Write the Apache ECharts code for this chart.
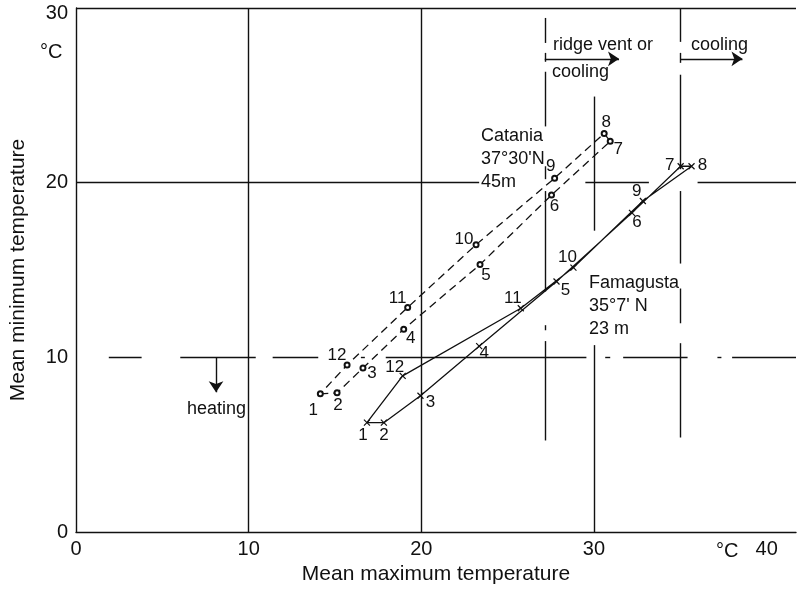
<!DOCTYPE html>
<html>
<head>
<meta charset="utf-8">
<script src="https://cdn.jsdelivr.net/npm/echarts@6/dist/echarts.min.js"></script>
<style>
html,body{margin:0;padding:0;background:#fff;}
#chart{width:799px;height:590px;}
</style>
</head>
<body>
<div id="chart"></div>
<script>
// ---------- data ----------
const months = ['1','2','3','4','5','6','7','8','9','10','11','12'];
const cataniaMax = [14.15, 15.12, 16.62, 18.98, 23.40, 27.54, 30.94, 30.59, 27.72, 23.17, 19.21, 15.70];
const cataniaMin = [7.91, 7.97, 9.39, 11.61, 15.31, 19.29, 22.37, 22.82, 20.26, 16.45, 12.86, 9.56];
const famagustaMax = [16.85, 17.83, 19.95, 23.35, 27.83, 32.20, 35.02, 35.65, 32.83, 28.81, 25.76, 18.92];
const famagustaMin = [6.26, 6.26, 7.80, 10.64, 14.34, 18.27, 20.94, 20.94, 18.95, 15.14, 12.81, 8.94];

const xTicks = [0, 10, 20, 30, 40];
const yTicks = [0, 10, 20, 30];

// reference lines (data units): vertical [x, [yFrom, yTo]...], horizontal [y, [xFrom, xTo]...]
const grid10X = 10, grid10Segs = [[0, 30]];
const grid20X = 20, grid20Segs = [[0, 30]];
const grid30X = 30, grid30Segs = [[24.93, 17.25], [10.70, 0]];
const ridgeX = 27.15, ridgeSegs = [[29.43, 28.0], [27.43, 26.92], [26.35, 23.22], [20.94, 20.20], [19.52, 13.77], [11.84, 11.55], [10.93, 5.24]];
const coolX = 35.0, coolSegs = [[30, 28.06], [27.43, 26.86], [26.18, 20.77], [19.52, 15.37], [13.94, 11.95], [10.81, 5.41]];
const h20Y = 20, h20Segs = [[0, 23.35], [29.50, 33.18], [36.0, 41.7]];
const h10Y = 10, h10Segs = [[1.90, 3.80], [6.04, 10.41], [11.39, 14.03], [16.50, 16.73], [17.94, 29.56], [30.65, 30.94], [31.69, 35.42], [37.15, 37.38], [38.0, 41.7]];
const topY = 30, topSegs = [[0, 41.7]];

// arrows [x1,y1,x2,y2]
const arrowRidge = [27.15, 27.09, 31.45, 27.09];
const arrowCool = [35.0, 27.09, 38.6, 27.09];
const arrowHeat = [8.11, 10, 8.0 * 1, 8.0];

// ---------- styling ----------
const FONT = '"Liberation Sans", Arial, Helvetica, sans-serif';
const INK = '#111';
const cataniaLabelOff = [[-7,16],[1,13],[9,5],[7,9],[6,11],[3,11],[8,8],[2,-11],[-4,-12],[-12,-5],[-10,-9],[-10,-10]];
const famagustaLabelOff = [[-4,13],[0,13],[10,7],[5,7],[9,9],[5,9],[-11,-1],[11,-1],[-6,-10],[-6,-10],[-8,-10],[-8,-9]];

function loopData(xs, ys, offs) {
  const d = xs.map((x, i) => ({
    value: [x, ys[i]],
    label: { show: true, formatter: months[i], position: 'inside', offset: offs[i] }
  }));
  d.push({ value: [xs[0], ys[0]], symbol: 'none', label: { show: false } });
  return d;
}
function vSegs(x, segs) { return segs.map(s => [{ coord: [x, s[0]] }, { coord: [x, s[1]] }]); }
function hSegs(y, segs) { return segs.map(s => [{ coord: [s[0], y] }, { coord: [s[1], y] }]); }

const refLines = [].concat(
  vSegs(grid10X, grid10Segs), vSegs(grid20X, grid20Segs), vSegs(grid30X, grid30Segs),
  vSegs(ridgeX, ridgeSegs), vSegs(coolX, coolSegs),
  hSegs(h20Y, h20Segs), hSegs(h10Y, h10Segs), hSegs(topY, topSegs)
);
const arrows = [arrowRidge, arrowCool, [arrowHeat[0], arrowHeat[1], arrowHeat[0], arrowHeat[3]]]
  .map(a => [{ coord: [a[0], a[1]] }, { coord: [a[2], a[3]] }]);

const chart = echarts.init(document.getElementById('chart'), null, { renderer: 'canvas' });
const labelStyle = { color: INK, fontSize: 17, fontFamily: FONT };
const crossPath = 'path://M0,0L10,10M10,0L0,10';

chart.setOption({
  backgroundColor: '#fff',
  animation: false,
  textStyle: { fontFamily: FONT, color: INK },
  grid: { left: 74, right: 0, top: 8, bottom: 55 },
  xAxis: {
    type: 'value', min: 0, max: 41.7, interval: 10,
    axisLine: { show: true, onZero: false, lineStyle: { color: INK, width: 1.4 } },
    axisTick: { show: false }, splitLine: { show: false },
    axisLabel: { color: INK, fontSize: 20, fontFamily: FONT, margin: 7,
      formatter: v => (xTicks.indexOf(v) >= 0 ? String(v) : '') },
    name: 'Mean maximum temperature', nameLocation: 'middle', nameGap: 32,
    nameTextStyle: { color: INK, fontSize: 21, fontFamily: FONT }
  },
  yAxis: {
    type: 'value', min: 0, max: 30, interval: 10,
    axisLine: { show: true, onZero: false, lineStyle: { color: INK, width: 1.4 } },
    axisTick: { show: false }, splitLine: { show: false },
    axisLabel: { color: INK, fontSize: 20, fontFamily: FONT, margin: 8,
      formatter: v => (v === 30 ? '{t|30}' : (yTicks.indexOf(v) >= 0 ? String(v) : '')),
      rich: { t: { fontSize: 20, fontFamily: FONT, color: INK, padding: [10, 0, 0, 0] } } },
    name: 'Mean minimum temperature', nameLocation: 'middle', nameGap: 47,
    nameTextStyle: { color: INK, fontSize: 21, fontFamily: FONT }
  },
  series: [
    {
      type: 'line', data: [], silent: true,
      markLine: { silent: true, symbol: 'none', label: { show: false },
        lineStyle: { color: INK, width: 1.4, type: 'solid' }, data: refLines }
    },
    {
      type: 'line', data: [], silent: true,
      markLine: { silent: true, symbol: ['none', 'arrow'], symbolSize: 11, label: { show: false },
        itemStyle: { color: INK },
        lineStyle: { color: INK, width: 1.4, type: 'solid' }, data: arrows }
    },
    {
      name: 'Catania', type: 'line', data: loopData(cataniaMax, cataniaMin, cataniaLabelOff),
      symbol: 'emptyCircle', symbolSize: 5, showSymbol: true,
      lineStyle: { color: INK, width: 1.3, type: [8, 5] },
      itemStyle: { color: INK, borderColor: INK, borderWidth: 1.1 },
      label: labelStyle
    },
    {
      name: 'Famagusta', type: 'line', data: loopData(famagustaMax, famagustaMin, famagustaLabelOff),
      symbol: crossPath, symbolSize: 6, showSymbol: true,
      lineStyle: { color: INK, width: 1.3, type: 'solid' },
      itemStyle: { color: INK, borderColor: INK, borderWidth: 1.2 },
      label: labelStyle
    }
  ],
  graphic: [
    { type: 'text', left: 40, top: 42, style: { text: '°C', fill: INK, font: '20px ' + FONT } },
    { type: 'text', left: 716, top: 541, style: { text: '°C', fill: INK, font: '20px ' + FONT } },
    { type: 'text', left: 553, top: 36, style: { text: 'ridge vent or', fill: INK, font: '18px ' + FONT } },
    { type: 'text', left: 552, top: 63, style: { text: 'cooling', fill: INK, font: '18px ' + FONT } },
    { type: 'text', left: 691, top: 36, style: { text: 'cooling', fill: INK, font: '18px ' + FONT } },
    { type: 'text', left: 481, top: 125, style: { text: 'Catania\n37°30\'N\n45m', fill: INK, font: '18px ' + FONT, lineHeight: 23 } },
    { type: 'text', left: 589, top: 272, style: { text: 'Famagusta\n35°7\' N\n23 m', fill: INK, font: '18px ' + FONT, lineHeight: 23 } },
    { type: 'text', left: 187, top: 400, style: { text: 'heating', fill: INK, font: '18px ' + FONT } }
  ]
});
</script>
</body>
</html>
